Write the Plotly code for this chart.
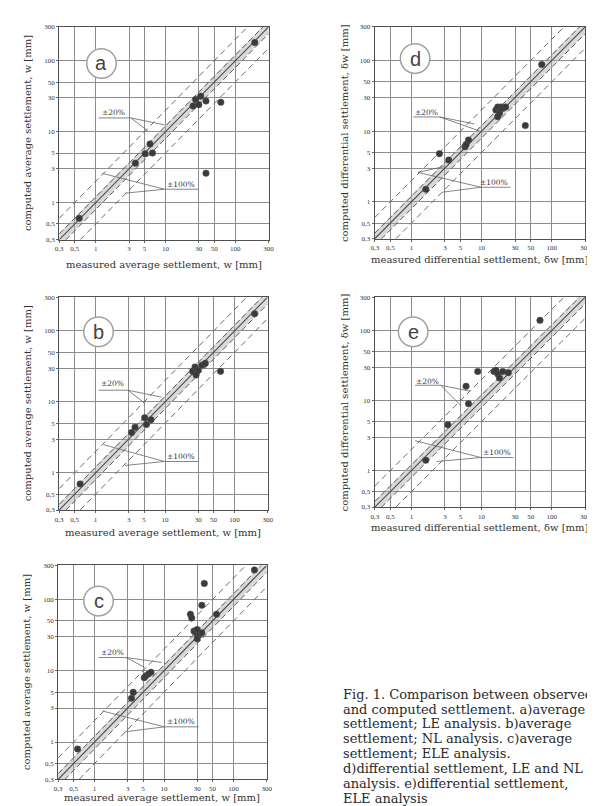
import math
import plotly.graph_objects as go

W, H = 595, 806

# ---------------- data ----------------
tick_vals = [0.3, 0.5, 1, 3, 5, 10, 30, 50, 100, 300]
tick_text = ["0,3", "0,5", "1", "3", "5", "10", "30", "50", "100", "300"]

a_measured = [0.58, 3.7, 5.1, 6.5, 6.0, 24.8, 27, 30, 32, 38, 62, 38, 190]
a_computed = [0.60, 3.6, 4.9, 5.0, 6.7, 23.0, 28.5, 24, 31.6, 27, 26, 2.6, 180]

b_measured = [0.6, 3.3, 3.7, 5.1, 6.3, 5.4, 25, 27, 30, 34, 38, 28, 63, 195]
b_computed = [0.7, 3.7, 4.4, 6.0, 5.6, 4.8, 27, 31, 28, 33, 35, 24, 27, 175]

c_measured = [0.57, 3.4, 3.6, 5.2, 5.5, 6.0, 6.5, 24, 25, 35, 38, 27, 28, 30, 32, 35, 30, 30, 57, 200]
c_computed = [0.80, 4.1, 5.0, 8.0, 8.5, 9.0, 9.5, 62, 55, 83, 168, 36, 35, 33, 32, 34, 38, 28, 62, 260]

d_measured = [1.6, 2.5, 3.4, 5.8, 6.0, 6.5, 16, 17, 18, 19, 20, 22, 17, 42, 72]
d_computed = [1.5, 4.8, 3.9, 6.0, 6.5, 7.5, 20, 22, 18, 22, 21, 22, 16, 12, 88]

e_measured = [1.6, 3.3, 6.0, 6.5, 8.8, 15, 16, 17, 18, 20, 24, 68]
e_computed = [1.4, 4.5, 16, 9.0, 26, 26, 27, 24, 21, 26, 25, 140]

ratio_equal = 1.0
ratios_20 = [1.2, 0.8]
ratios_100 = [2.0, 0.5]
line_x = [0.3, 300]

# ---------------- layout helpers ----------------
def P(x, y):
    return x / W, 1 - y / H

# pixel boxes of the five panels: left, right, top, bottom
boxes = {
    "a": (48, 261, 15, 230),
    "b": (48, 260, 288, 503),
    "c": (47, 259, 559, 775),
    "d": (369, 583, 15, 229),
    "e": (369, 583, 288, 500),
}
axis_ids = {"a": "", "b": "2", "c": "3", "d": "4", "e": "5"}
data = {
    "a": (a_measured, a_computed),
    "b": (b_measured, b_computed),
    "c": (c_measured, c_computed),
    "d": (d_measured, d_computed),
    "e": (e_measured, e_computed),
}

fig = go.Figure()
layout_axes = {}
shapes = []
annotations = []

SERIF = "DejaVu Serif"
GRID = "#8c8c8c"
LINE = "#505050"

for key, (l, r, t, b) in boxes.items():
    sid = axis_ids[key]
    xa, ya = "x" + sid, "y" + sid
    mx, cy = data[key]
    # light band along 1:1
    fig.add_trace(go.Scatter(x=line_x, y=[v * ratio_equal for v in line_x], xaxis=xa, yaxis=ya,
                             mode="lines", line=dict(color="rgba(170,170,170,0.45)", width=9),
                             hoverinfo="skip", showlegend=False))
    for rr in ratios_100:
        fig.add_trace(go.Scatter(x=line_x, y=[v * rr for v in line_x], xaxis=xa, yaxis=ya,
                                 mode="lines", line=dict(color="#6a6a6a", width=1, dash="6px,4px"),
                                 hoverinfo="skip", showlegend=False))
    for rr in ratios_20:
        fig.add_trace(go.Scatter(x=line_x, y=[v * rr for v in line_x], xaxis=xa, yaxis=ya,
                                 mode="lines", line=dict(color="#5a5a5a", width=1, dash="6px,3px"),
                                 hoverinfo="skip", showlegend=False))
    fig.add_trace(go.Scatter(x=line_x, y=[v * ratio_equal for v in line_x], xaxis=xa, yaxis=ya,
                             mode="lines", line=dict(color="#4a4a4a", width=1.1),
                             hoverinfo="skip", showlegend=False))
    fig.add_trace(go.Scatter(x=mx, y=cy, xaxis=xa, yaxis=ya, mode="markers",
                             marker=dict(color="#3a3a3a", size=6.5, symbol="circle",
                                         line=dict(color="#555", width=0.5)),
                             showlegend=False))

    x0, y1 = P(l, t)
    x1, y0 = P(r, b)
    common = dict(type="log", range=[math.log10(0.3), math.log10(300)],
                  tickvals=tick_vals, ticktext=tick_text,
                  tickfont=dict(family="Liberation Serif", size=7, color="#333"),
                  showgrid=True, gridcolor=GRID, gridwidth=1,
                  showline=True, linecolor=LINE, linewidth=1.2, mirror=True,
                  ticks="outside", ticklen=2, tickcolor="#666", zeroline=False)
    layout_axes["xaxis" + sid] = dict(common, domain=[x0, x1], anchor=ya)
    layout_axes["yaxis" + sid] = dict(common, domain=[y0, y1], anchor=xa)

# ---------------- titles ----------------
title_font = dict(family=SERIF, size=10, color="#333")
titles = {
    "a": ("measured average settlement, w [mm]", "computed average settlement, w [mm]", 25, 16),
    "b": ("measured average settlement, w [mm]", "computed average settlement, w [mm]", 23, 16),
    "c": ("measured average settlement, w [mm]", "computed average settlement, w [mm]", 18, 15),
    "d": ("measured differential settlement, δw [mm]", "computed differential settlement, δw [mm]", 21, 338),
    "e": ("measured differential settlement, δw [mm]", "computed differential settlement, δw [mm]", 21, 338),
}
for key, (xt, yt, dy, ypx) in titles.items():
    l, r, t, b = boxes[key]
    px, py = P((l + r) / 2, b + dy)
    annotations.append(dict(xref="paper", yref="paper", x=px, y=py, text=xt, showarrow=False,
                            font=title_font, xanchor="center", yanchor="middle"))
    px, py = P(ypx, (t + b) / 2)
    annotations.append(dict(xref="paper", yref="paper", x=px, y=py, text=yt, showarrow=False,
                            font=title_font, textangle=-90, xanchor="center", yanchor="middle"))

# ---------------- circle labels ----------------
circles = {"a": (91, 52), "b": (88, 323), "c": (88, 595), "d": (410, 47), "e": (408, 323)}
for key, (cx, cyy) in circles.items():
    rad = 15
    ax0, ay1 = P(cx - rad, cyy - rad)
    ax1, ay0 = P(cx + rad, cyy + rad)
    shapes.append(dict(type="circle", xref="paper", yref="paper", x0=ax0, x1=ax1, y0=ay0, y1=ay1,
                       fillcolor="white", line=dict(color="#a0a0a0", width=1.5), layer="above"))
    px, py = P(cx, cyy)
    annotations.append(dict(xref="paper", yref="paper", x=px, y=py, text=key, showarrow=False,
                            font=dict(family="Liberation Sans", size=20, color="#444"),
                            xanchor="center", yanchor="middle"))

# ---------------- callouts ----------------
callouts = {
    "a": ((103, 102), (88, 121, 107), [((121, 107), (138, 120)), ((121, 107), (155, 114))],
          (172, 174), (155, 190, 179), [((155, 179), (92, 163)), ((155, 179), (115, 183))]),
    "b": ((102, 375), (88, 118, 382), [((118, 382), (135, 395)), ((118, 382), (152, 389))],
          (172, 449), (155, 190, 454), [((155, 454), (93, 437)), ((155, 454), (115, 458))]),
    "c": ((102, 647), (88, 116, 652), [((116, 652), (135, 662)), ((116, 652), (152, 657))],
          (172, 717), (155, 190, 722), [((155, 722), (92, 706)), ((155, 722), (115, 727))]),
    "d": ((422, 102), (408, 435, 106), [((435, 106), (470, 113)), ((435, 106), (475, 120))],
          (490, 172), (477, 507, 177), [((477, 177), (413, 162)), ((477, 177), (438, 182)),
                                        ((413, 162), (440, 156))]),
    "e": ((423, 373), (410, 436, 377), [((436, 377), (466, 383)), ((436, 377), (457, 398))],
          (493, 445), (477, 510, 450), [((477, 450), (410, 433)), ((477, 450), (432, 454))]),
}
lab_font = dict(family=SERIF, size=7.5, color="#333")
for key, (c20, u20, l20, c100, u100, l100) in callouts.items():
    for (cen, und, lines, txt) in ((c20, u20, l20, "±20%"), (c100, u100, l100, "±100%")):
        px, py = P(*cen)
        annotations.append(dict(xref="paper", yref="paper", x=px, y=py, text=txt, showarrow=False,
                                font=lab_font, xanchor="center", yanchor="middle"))
        ux0, uy = P(und[0], und[2])
        ux1, _ = P(und[1], und[2])
        shapes.append(dict(type="line", xref="paper", yref="paper", x0=ux0, x1=ux1, y0=uy, y1=uy,
                           line=dict(color="#666", width=0.8)))
        for (p0, p1) in lines:
            sx0, sy0 = P(*p0)
            sx1, sy1 = P(*p1)
            shapes.append(dict(type="line", xref="paper", yref="paper", x0=sx0, x1=sx1, y0=sy0, y1=sy1,
                               line=dict(color="#666", width=0.8)))

# ---------------- caption ----------------
caption_lines = [
    "Fig. 1. Comparison between observed",
    "and computed settlement. a)average",
    "settlement; LE analysis. b)average",
    "settlement; NL analysis. c)average",
    "settlement; ELE analysis.",
    "d)differential settlement, LE and NL",
    "analysis. e)differential settlement,",
    "ELE analysis",
]
cap_y = [689, 704, 719, 734, 749, 764, 779, 794]
for txt, yy in zip(caption_lines, cap_y):
    px, py = P(335, yy)
    annotations.append(dict(xref="paper", yref="paper", x=px, y=py, text=txt, showarrow=False,
                            font=dict(family=SERIF, size=13, color="#2a2a2a"),
                            xanchor="left", yanchor="middle"))

fig.update_layout(width=W, height=H, margin=dict(l=0, r=0, t=0, b=0),
                  paper_bgcolor="white", plot_bgcolor="white",
                  shapes=shapes, annotations=annotations, showlegend=False, **layout_axes)

fig.write_html("out.html")
